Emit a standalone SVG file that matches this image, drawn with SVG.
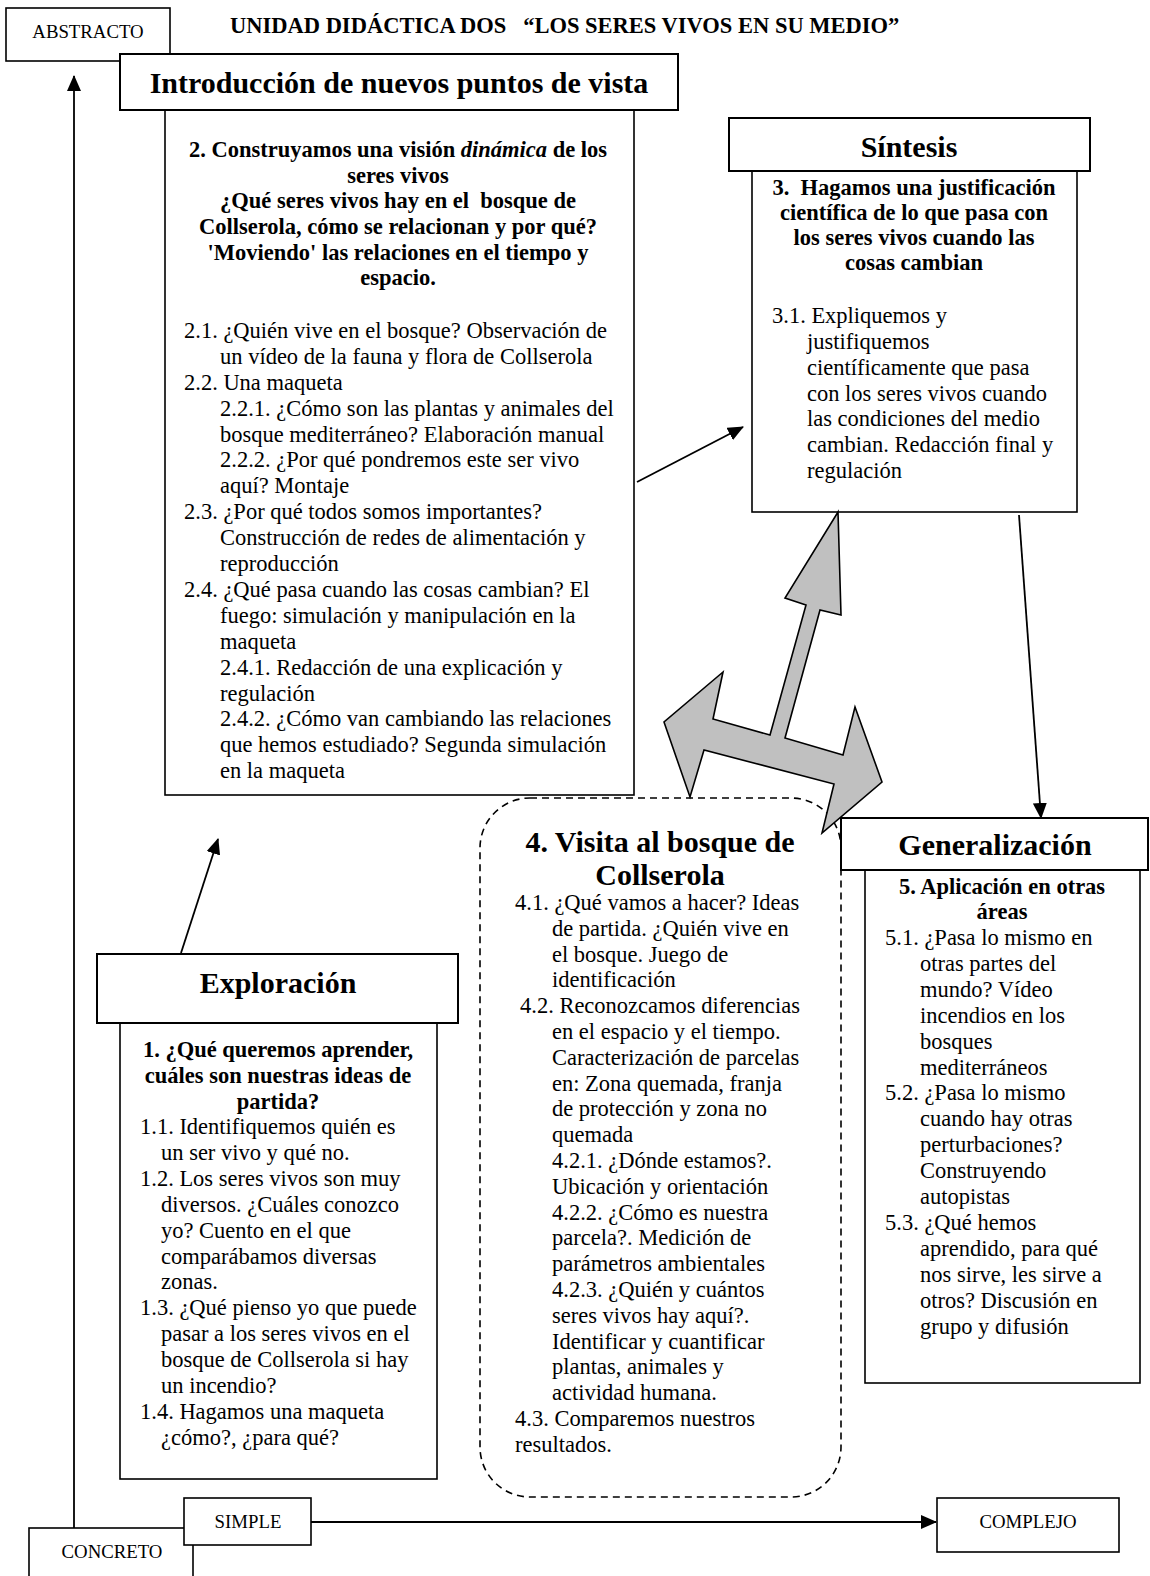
<svg xmlns="http://www.w3.org/2000/svg" width="1150" height="1576" viewBox="0 0 1150 1576">
<style>
text{font-family:"Liberation Serif","Times New Roman",serif;fill:#000}
.box{fill:#fff;stroke:#000;stroke-width:1.6}
.hbox{fill:#fff;stroke:#000;stroke-width:2}
.hdr{font-size:30px;font-weight:bold;text-anchor:middle}
.b{font-size:22.5px;font-weight:bold;text-anchor:middle}
.t{font-size:22.5px}
.lbl{font-size:18.8px;text-anchor:middle}
.title{font-size:22.5px;font-weight:bold;white-space:pre}
.con{stroke:#000;stroke-width:1.8;fill:none}
</style>
<defs>
<marker id="ah" markerUnits="userSpaceOnUse" markerWidth="16" markerHeight="14" refX="15" refY="7" orient="auto">
<path d="M0,0 L16,7 L0,14 Z" fill="#000"/>
</marker>
</defs>

<g id="title">
<text class="title" x="230" y="33">UNIDAD DIDÁCTICA DOS   “LOS SERES VIVOS EN SU MEDIO”</text>
</g>

<g id="abstracto">
<rect class="box" x="6" y="8" width="164" height="53"/>
<text class="lbl" x="88" y="38">ABSTRACTO</text>
</g>

<g id="connectors">
<line class="con" x1="74" y1="1528" x2="74" y2="76" marker-end="url(#ah)"/>
<line class="con" x1="311" y1="1522" x2="936" y2="1522" marker-end="url(#ah)"/>
<line class="con" x1="637" y1="482" x2="743" y2="427" marker-end="url(#ah)"/>
<line class="con" x1="1019" y1="515" x2="1041" y2="818" marker-end="url(#ah)"/>
<line class="con" x1="181" y1="953" x2="218" y2="839" marker-end="url(#ah)"/>
</g>

<g id="introduccion">
<rect class="box" x="165" y="110" width="469" height="685"/>
<rect class="hbox" x="120" y="54" width="558" height="56"/>
<text class="hdr" x="399" y="93">Introducción de nuevos puntos de vista</text>
<text class="b" x="398" y="157">2. Construyamos una visión <tspan font-style="italic">dinámica</tspan> de los</text>
<text class="b" x="398" y="183">seres vivos</text>
<text class="b" x="398" y="208" style="white-space:pre">¿Qué seres vivos hay en el  bosque de</text>
<text class="b" x="398" y="234">Collserola, cómo se relacionan y por qué?</text>
<text class="b" x="398" y="260">'Moviendo' las relaciones en el tiempo y</text>
<text class="b" x="398" y="285">espacio.</text>
<text class="t" x="184" y="338">2.1. ¿Quién vive en el bosque? Observación de</text>
<text class="t" x="220" y="364">un vídeo de la fauna y flora de Collserola</text>
<text class="t" x="184" y="390">2.2. Una maqueta</text>
<text class="t" x="220" y="416">2.2.1. ¿Cómo son las plantas y animales del</text>
<text class="t" x="220" y="442">bosque mediterráneo? Elaboración manual</text>
<text class="t" x="220" y="467">2.2.2. ¿Por qué pondremos este ser vivo</text>
<text class="t" x="220" y="493">aquí? Montaje</text>
<text class="t" x="184" y="519">2.3. ¿Por qué todos somos importantes?</text>
<text class="t" x="220" y="545">Construcción de redes de alimentación y</text>
<text class="t" x="220" y="571">reproducción</text>
<text class="t" x="184" y="597">2.4. ¿Qué pasa cuando las cosas cambian? El</text>
<text class="t" x="220" y="623">fuego: simulación y manipulación en la</text>
<text class="t" x="220" y="649">maqueta</text>
<text class="t" x="220" y="675">2.4.1. Redacción de una explicación y</text>
<text class="t" x="220" y="701">regulación</text>
<text class="t" x="220" y="726">2.4.2. ¿Cómo van cambiando las relaciones</text>
<text class="t" x="220" y="752">que hemos estudiado? Segunda simulación</text>
<text class="t" x="220" y="778">en la maqueta</text>
</g>

<g id="sintesis">
<rect class="box" x="752" y="171" width="325" height="341"/>
<rect class="hbox" x="729" y="118" width="361" height="53"/>
<text class="hdr" x="909" y="157">Síntesis</text>
<text class="b" x="914" y="195" style="white-space:pre">3.  Hagamos una justificación</text>
<text class="b" x="914" y="220">científica de lo que pasa con</text>
<text class="b" x="914" y="245">los seres vivos cuando las</text>
<text class="b" x="914" y="270">cosas cambian</text>
<text class="t" x="772" y="323">3.1. Expliquemos y</text>
<text class="t" x="807" y="349">justifiquemos</text>
<text class="t" x="807" y="375">científicamente que pasa</text>
<text class="t" x="807" y="401">con los seres vivos cuando</text>
<text class="t" x="807" y="426">las condiciones del medio</text>
<text class="t" x="807" y="452">cambian. Redacción final y</text>
<text class="t" x="807" y="478">regulación</text>
</g>

<g id="visita">
<rect x="480" y="798" width="361" height="699" rx="50" ry="50" fill="#fff" stroke="#000" stroke-width="1.6" stroke-dasharray="7 5"/>
<text class="hdr" x="660" y="852">4. Visita al bosque de</text>
<text class="hdr" x="660" y="885">Collserola</text>
<text class="t" x="515" y="910">4.1. ¿Qué vamos a hacer? Ideas</text>
<text class="t" x="552" y="936">de partida. ¿Quién vive en</text>
<text class="t" x="552" y="962">el bosque. Juego de</text>
<text class="t" x="552" y="987">identificación</text>
<text class="t" x="520" y="1013">4.2. Reconozcamos diferencias</text>
<text class="t" x="552" y="1039">en el espacio y el tiempo.</text>
<text class="t" x="552" y="1065">Caracterización de parcelas</text>
<text class="t" x="552" y="1091">en: Zona quemada, franja</text>
<text class="t" x="552" y="1116">de protección y zona no</text>
<text class="t" x="552" y="1142">quemada</text>
<text class="t" x="552" y="1168">4.2.1. ¿Dónde estamos?.</text>
<text class="t" x="552" y="1194">Ubicación y orientación</text>
<text class="t" x="552" y="1220">4.2.2. ¿Cómo es nuestra</text>
<text class="t" x="552" y="1245">parcela?. Medición de</text>
<text class="t" x="552" y="1271">parámetros ambientales</text>
<text class="t" x="552" y="1297">4.2.3. ¿Quién y cuántos</text>
<text class="t" x="552" y="1323">seres vivos hay aquí?.</text>
<text class="t" x="552" y="1349">Identificar y cuantificar</text>
<text class="t" x="552" y="1374">plantas, animales y</text>
<text class="t" x="552" y="1400">actividad humana.</text>
<text class="t" x="515" y="1426">4.3. Comparemos nuestros</text>
<text class="t" x="515" y="1452">resultados.</text>
</g>

<g id="bidirectional-arrow">
<polygon points="838,512 841,615 820,610 785,738 843,755 855,707 882,782 822,833 834,784 704,750 690,797 664,722 723,672 713,719 770,735 806,605 785,598" fill="#c0c0c0" stroke="#000" stroke-width="1.6" stroke-linejoin="miter"/>
</g>

<g id="generalizacion">
<rect class="box" x="865" y="870" width="275" height="513"/>
<rect class="hbox" x="841" y="818" width="307" height="52"/>
<text class="hdr" x="995" y="855">Generalización</text>
<text class="b" x="1002" y="894">5. Aplicación en otras</text>
<text class="b" x="1002" y="919">áreas</text>
<text class="t" x="885" y="945">5.1. ¿Pasa lo mismo en</text>
<text class="t" x="920" y="971">otras partes del</text>
<text class="t" x="920" y="997">mundo? Vídeo</text>
<text class="t" x="920" y="1023">incendios en los</text>
<text class="t" x="920" y="1049">bosques</text>
<text class="t" x="920" y="1075">mediterráneos</text>
<text class="t" x="885" y="1100">5.2. ¿Pasa lo mismo</text>
<text class="t" x="920" y="1126">cuando hay otras</text>
<text class="t" x="920" y="1152">perturbaciones?</text>
<text class="t" x="920" y="1178">Construyendo</text>
<text class="t" x="920" y="1204">autopistas</text>
<text class="t" x="885" y="1230">5.3. ¿Qué hemos</text>
<text class="t" x="920" y="1256">aprendido, para qué</text>
<text class="t" x="920" y="1282">nos sirve, les sirve a</text>
<text class="t" x="920" y="1308">otros? Discusión en</text>
<text class="t" x="920" y="1334">grupo y difusión</text>
</g>

<g id="exploracion">
<rect class="box" x="120" y="1023" width="317" height="456"/>
<rect class="hbox" x="97" y="954" width="361" height="69"/>
<text class="hdr" x="278" y="993">Exploración</text>
<text class="b" x="278" y="1057">1. ¿Qué queremos aprender,</text>
<text class="b" x="278" y="1083">cuáles son nuestras ideas de</text>
<text class="b" x="278" y="1109">partida?</text>
<text class="t" x="140" y="1134">1.1. Identifiquemos quién es</text>
<text class="t" x="161" y="1160">un ser vivo y qué no.</text>
<text class="t" x="140" y="1186">1.2. Los seres vivos son muy</text>
<text class="t" x="161" y="1212">diversos. ¿Cuáles conozco</text>
<text class="t" x="161" y="1238">yo? Cuento en el que</text>
<text class="t" x="161" y="1264">comparábamos diversas</text>
<text class="t" x="161" y="1289">zonas.</text>
<text class="t" x="140" y="1315">1.3. ¿Qué pienso yo que puede</text>
<text class="t" x="161" y="1341">pasar a los seres vivos en el</text>
<text class="t" x="161" y="1367">bosque de Collserola si hay</text>
<text class="t" x="161" y="1393">un incendio?</text>
<text class="t" x="140" y="1419">1.4. Hagamos una maqueta</text>
<text class="t" x="161" y="1445">¿cómo?, ¿para qué?</text>
</g>

<g id="concreto">
<rect class="box" x="29" y="1528" width="164" height="60"/>
<text class="lbl" x="112" y="1558">CONCRETO</text>
</g>

<g id="simple">
<rect class="box" x="184" y="1498" width="127" height="47"/>
<text class="lbl" x="248" y="1528">SIMPLE</text>
</g>

<g id="complejo">
<rect class="box" x="937" y="1498" width="182" height="54"/>
<text class="lbl" x="1028" y="1528">COMPLEJO</text>
</g>
</svg>
